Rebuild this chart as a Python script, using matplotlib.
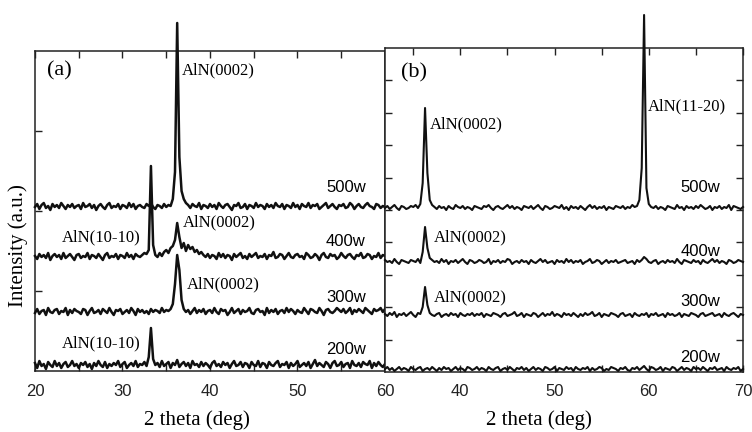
import numpy as np
import matplotlib
matplotlib.use("Agg")
import matplotlib.pyplot as plt

plt.rcParams["font.family"] = ["Liberation Sans", "DejaVu Sans"]

# Sputtering powers (one XRD scan each, stacked bottom to top)
powers = ["200w", "300w", "400w", "500w"]

# Scan grids: start angle and step (deg)
scan_a_start, scan_b_start, scan_step = 20.0, 32.0, 0.25

# ---- Panel (a) intensities (a.u.), 20-60 deg ----
a_200w = [
    12, 7, 14, 9, 11, 6, 13, 10, 8, 14, 9, 12, 7, 11, 13, 8, 10, 14, 9, 11,
    7, 12, 10, 13, 8, 11, 6, 12, 9, 14, 10, 8, 13, 7, 11, 9, 12, 10, 14, 8,
    11, 13, 7, 10, 12, 9, 14, 8, 11, 10, 13, 9, 18, 47, 16, 10, 12, 8, 14, 9,
    11, 13, 7, 12, 10, 15, 8, 11, 13, 9, 12, 7, 14, 10, 11, 8, 13, 9, 12, 10,
    7, 12, 14, 9, 11, 8, 13, 10, 12, 7, 11, 14, 9, 10, 13, 8, 12, 11, 7, 13,
    10, 9, 14, 8, 12, 11, 7, 13, 10, 9, 12, 14, 8, 11, 10, 13, 7, 12, 9, 11,
    14, 8, 10, 12, 9, 13, 7, 11, 15, 9, 12, 10, 8, 13, 11, 7, 12, 14, 9, 10,
    13, 8, 11, 12, 7, 14, 10, 9, 12, 8, 13, 11, 10, 14, 7, 12, 9, 13, 10, 8, 11,
]
a_300w = [
    9, 13, 8, 11, 12, 7, 14, 10, 9, 12, 13, 8, 11, 10, 14, 7, 12, 9, 13, 11,
    10, 8, 13, 12, 7, 11, 14, 9, 10, 12, 8, 13, 11, 9, 14, 10, 7, 12, 11, 13,
    8, 10, 12, 9, 14, 11, 7, 13, 10, 12, 9, 11, 8, 13, 10, 12, 11, 9, 14, 10,
    12, 11, 13, 18, 38, 67, 52, 22, 13, 10, 12, 8, 11, 14, 9, 12, 10, 13, 8, 11,
    12, 9, 14, 10, 8, 13, 11, 12, 7, 10, 14, 9, 11, 13, 8, 12, 10, 11, 14, 9,
    8, 12, 13, 10, 11, 7, 14, 9, 12, 10, 13, 8, 11, 12, 9, 14, 10, 13, 11, 8,
    12, 10, 9, 14, 11, 8, 13, 12, 10, 9, 14, 11, 7, 12, 13, 10, 9, 11, 14, 12,
    10, 13, 9, 11, 14, 8, 12, 10, 13, 11, 9, 14, 12, 10, 8, 13, 11, 12, 14, 10, 13,
]
a_400w = [
    11, 8, 13, 10, 12, 9, 14, 7, 11, 13, 10, 12, 8, 14, 9, 11, 13, 10, 7, 12,
    13, 9, 11, 10, 14, 8, 12, 11, 9, 13, 10, 7, 12, 14, 9, 11, 10, 13, 8, 12,
    11, 9, 14, 10, 12, 8, 13, 11, 10, 12, 14, 13, 17, 101, 22, 12, 10, 14, 11, 15,
    17, 14, 19, 21, 27, 44, 30, 19, 24, 16, 22, 18, 20, 15, 17, 13, 15, 12, 10, 13,
    9, 12, 11, 8, 14, 10, 13, 9, 12, 11, 7, 13, 10, 12, 14, 9, 11, 8, 13, 10,
    12, 14, 9, 11, 10, 13, 8, 12, 11, 15, 9, 10, 13, 12, 8, 11, 14, 10, 9, 12,
    13, 10, 11, 8, 14, 12, 9, 10, 13, 11, 7, 12, 14, 10, 9, 13, 11, 12, 8, 10,
    14, 11, 9, 12, 13, 10, 8, 12, 11, 14, 9, 10, 13, 12, 8, 11, 10, 14, 9, 12, 11,
]
a_500w = [
    10, 13, 8, 12, 14, 9, 11, 7, 13, 10, 12, 9, 14, 11, 8, 12, 10, 13, 9, 11,
    12, 8, 14, 10, 11, 13, 9, 12, 7, 11, 13, 10, 8, 12, 14, 9, 11, 10, 13, 8,
    12, 11, 9, 14, 10, 13, 8, 11, 12, 10, 9, 13, 11, 14, 10, 8, 12, 11, 9, 13,
    10, 12, 11, 18, 45, 194, 60, 26, 18, 14, 12, 9, 13, 11, 10, 14, 8, 12, 11, 9,
    13, 10, 12, 8, 14, 11, 9, 12, 13, 10, 7, 12, 11, 14, 9, 10, 13, 8, 12, 11,
    9, 14, 10, 12, 11, 8, 13, 10, 12, 9, 14, 11, 10, 13, 8, 12, 11, 9, 14, 10,
    12, 8, 13, 11, 10, 14, 9, 12, 11, 13, 8, 10, 12, 14, 9, 11, 13, 10, 8, 12,
    11, 13, 9, 10, 14, 12, 8, 11, 13, 10, 9, 12, 14, 11, 10, 8, 13, 12, 9, 11, 10,
]
offsets_a = [-4, 49, 104, 154]

# ---- Panel (b) intensities (a.u.), 32-70 deg ----
b_200w = [
    10, 12, 9, 11, 8, 10, 12, 9, 11, 10, 8, 12, 10, 9, 11, 12, 8, 10, 11, 9,
    12, 10, 8, 11, 9, 12, 10, 11, 8, 10, 12, 9, 11, 10, 8, 12, 11, 9, 10, 12,
    9, 11, 10, 8, 12, 10, 9, 11, 12, 8, 10, 11, 9, 12, 10, 8, 11, 10, 12, 9,
    11, 8, 10, 12, 9, 11, 10, 8, 12, 11, 9, 10, 12, 8, 11, 10, 9, 12, 10, 11,
    8, 12, 10, 9, 11, 10, 12, 8, 11, 9, 10, 12, 11, 8, 10, 9, 12, 11, 10, 8,
    11, 10, 12, 9, 8, 11, 10, 12, 9, 11, 13, 10, 8, 12, 11, 9, 10, 12, 8, 11,
    10, 9, 12, 11, 8, 10, 12, 9, 11, 10, 8, 12, 10, 11, 9, 12, 10, 8, 11, 10,
    12, 9, 10, 11, 8, 12, 10, 9, 11, 10, 12, 8, 10,
]
b_300w = [
    11, 9, 12, 10, 13, 8, 11, 10, 12, 9, 11, 13, 10, 8, 12, 11, 18, 38, 20, 12,
    10, 9, 11, 12, 8, 10, 11, 9, 12, 10, 11, 8, 12, 10, 9, 11, 10, 12, 9, 11,
    10, 12, 8, 11, 10, 9, 12, 11, 10, 8, 11, 12, 9, 10, 11, 13, 9, 10, 12, 8,
    11, 10, 9, 12, 11, 8, 10, 12, 9, 11, 10, 13, 9, 11, 10, 8, 12, 10, 11, 9,
    12, 10, 8, 11, 9, 12, 10, 11, 13, 9, 10, 12, 8, 11, 10, 9, 12, 11, 10, 8,
    11, 12, 9, 10, 11, 8, 12, 10, 9, 11, 10, 12, 8, 11, 10, 12, 9, 10, 11, 8,
    12, 10, 11, 9, 10, 12, 8, 11, 10, 9, 12, 11, 10, 8, 11, 12, 9, 10, 11, 12,
    9, 10, 11, 8, 12, 10, 9, 11, 12, 10, 8, 11, 10,
]
b_400w = [
    12, 10, 11, 9, 13, 10, 8, 12, 11, 10, 9, 12, 11, 10, 13, 9, 20, 45, 24, 14,
    12, 10, 11, 9, 13, 10, 12, 8, 11, 10, 12, 9, 11, 13, 10, 8, 12, 11, 9, 10,
    12, 11, 9, 10, 13, 8, 11, 10, 12, 9, 11, 10, 13, 12, 8, 10, 11, 9, 12, 10,
    11, 8, 12, 10, 9, 11, 13, 10, 12, 9, 10, 11, 8, 12, 10, 11, 9, 13, 10, 12,
    9, 11, 10, 12, 8, 10, 11, 13, 9, 10, 12, 11, 8, 10, 12, 9, 11, 10, 12, 9,
    10, 11, 12, 9, 10, 11, 8, 12, 10, 12, 15, 13, 10, 9, 11, 12, 8, 10, 11, 9,
    12, 10, 11, 9, 13, 10, 8, 12, 11, 10, 9, 12, 10, 11, 8, 12, 10, 9, 11, 13,
    10, 12, 9, 11, 10, 8, 12, 11, 9, 10, 12, 11, 10,
]
b_500w = [
    10, 12, 9, 11, 13, 10, 8, 12, 11, 9, 10, 12, 11, 13, 10, 14, 35, 110, 45, 18,
    13, 11, 9, 12, 10, 11, 8, 12, 10, 9, 13, 11, 10, 12, 9, 11, 10, 8, 12, 11,
    10, 9, 12, 11, 13, 10, 8, 11, 12, 10, 9, 11, 13, 10, 12, 9, 11, 10, 8, 12,
    11, 10, 12, 9, 11, 13, 10, 8, 12, 11, 9, 10, 12, 11, 10, 13, 9, 11, 8, 12,
    10, 11, 9, 12, 10, 8, 11, 13, 10, 12, 9, 11, 10, 12, 8, 11, 10, 9, 12, 11,
    10, 12, 9, 11, 10, 13, 11, 12, 18, 50, 203, 30, 14, 11, 10, 12, 9, 11, 10, 8,
    12, 11, 10, 9, 13, 10, 11, 8, 12, 10, 11, 9, 12, 10, 13, 11, 9, 10, 12, 8,
    11, 10, 12, 9, 11, 10, 13, 8, 12, 11, 10, 9, 11,
]
offsets_b = [-7, 47, 100, 154]

scans_a = [a_200w, a_300w, a_400w, a_500w]
scans_b = [b_200w, b_300w, b_400w, b_500w]
for s in scans_a:
    assert len(s) == 161, len(s)
for s in scans_b:
    assert len(s) == 153, len(s)

W, H = 752, 432
fig = plt.figure(figsize=(W / 100, H / 100), dpi=100)
ax_a = fig.add_axes([35 / W, 61 / H, 350 / W, 320 / H])
ax_b = fig.add_axes([385 / W, 60 / H, 358 / W, 324 / H])

serif = ["Liberation Serif", "DejaVu Serif"]
line_a = dict(color="#111111", lw=1.8, clip_on=False, zorder=3)
line_b = dict(color="#111111", lw=1.5, clip_on=False, zorder=3)

for ax, scans, offs, start, kw in ((ax_a, scans_a, offsets_a, scan_a_start, line_a),
                                   (ax_b, scans_b, offsets_b, scan_b_start, line_b)):
    for vals, off in zip(scans, offs):
        y = np.asarray(vals, dtype=float)
        x = start + scan_step * np.arange(len(y))
        ax.plot(x, y + off, **kw)
    for sp in ax.spines.values():
        sp.set_linewidth(1.1)
        sp.set_color("#222222")
    ax.tick_params(which="both", direction="in", length=5, width=1,
                   top=True, labelsize=12, pad=9, colors="#222222")

# Panel (a) axes
ax_a.set_xlim(20, 60)
ax_a.set_ylim(0, 320)
ax_a.set_xticks(np.arange(20, 61, 10))
ax_a.set_xticks(np.arange(25, 60, 10), minor=True)
ax_a.set_yticks([80, 160, 240])
ax_a.tick_params(axis="y", which="both", left=True, right=False, labelleft=False)

# Panel (b) axes
ax_b.set_xlim(32, 70)
ax_b.set_ylim(0, 324)
ax_b.set_xticks(np.arange(40, 71, 10))
ax_b.set_xticks(np.arange(35, 70, 10), minor=True)
ax_b.set_yticks(32.4 * np.arange(1, 10))
ax_b.tick_params(axis="y", which="both", left=True, right=True, labelleft=False)

# Peak labels and powers, panel (a)
pk = dict(family=serif, fontsize=12, va="center", ha="left")
pw = dict(fontsize=12, va="center", ha="right")
ax_a.text(21.4, 300, "(a)", family=serif, fontsize=16, va="center")
ax_a.text(36.8, 301, "AlN(0002)", **pk)
ax_a.text(23.1, 134, "AlN(10-10)", **pk)
ax_a.text(36.9, 149, "AlN(0002)", **pk)
ax_a.text(37.4, 87, "AlN(0002)", **pk)
ax_a.text(23.1, 28, "AlN(10-10)", **pk)
for lab, yy in zip(powers, [22, 74, 129, 184]):
    ax_a.text(57.8, yy, lab, **pw)

# Peak labels and powers, panel (b)
ax_b.text(33.7, 299, "(b)", family=serif, fontsize=16, va="center")
ax_b.text(36.8, 248, "AlN(0002)", **pk)
ax_b.text(59.9, 266, "AlN(11-20)", **pk)
ax_b.text(37.2, 135, "AlN(0002)", **pk)
ax_b.text(37.2, 75, "AlN(0002)", **pk)
for lab, yy in zip(powers, [14, 70, 120, 184]):
    ax_b.text(67.6, yy, lab, **pw)

# Axis titles
fig.text(197 / W, 1 - 420 / H, "2 theta (deg)", family=serif, fontsize=15,
         ha="center", va="center")
fig.text(539 / W, 1 - 420 / H, "2 theta (deg)", family=serif, fontsize=15,
         ha="center", va="center")
fig.text(18 / W, 1 - 246 / H, "Intensity (a.u.)", family=serif, fontsize=15,
         ha="center", va="center", rotation=90)

fig.savefig("out.png", dpi=100)
